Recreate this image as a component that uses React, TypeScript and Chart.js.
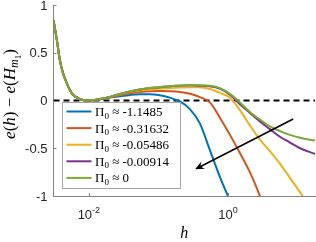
import React, { useEffect, useRef } from 'react';
import { Chart, registerables } from 'chart.js';

Chart.register(...registerables);

// ---- data ----
const hValues = [
  0.0031, 0.00347, 0.00383, 0.00423, 0.00482, 0.00533, 0.00589, 0.00695, 0.0082, 0.01,
  0.0144, 0.02, 0.028, 0.039, 0.054, 0.075, 0.105, 0.146, 0.204, 0.284,
  0.395, 0.551, 0.767, 1.07, 1.49, 2.07, 2.89, 4.02, 5.6, 7.8, 10.9, 17.9,
];

const seriesBlue = [
  0.84, 0.63, 0.42, 0.29, 0.18, 0.11, 0.06, 0.026, 0.005, 0.0,
  0.012, 0.03, 0.045, 0.058, 0.065, 0.065, 0.055, 0.03, -0.01, -0.09,
  -0.24, -0.52, -0.8, -1.05, null, null, null, null, null, null, null, null,
];
const seriesOrange = [
  0.84, 0.63, 0.42, 0.29, 0.18, 0.11, 0.06, 0.026, 0.005, 0.0,
  0.014, 0.033, 0.055, 0.075, 0.088, 0.097, 0.1, 0.098, 0.09, 0.07,
  0.035, -0.02, -0.18, -0.36, -0.55, -0.75, -1.0, -1.3, null, null, null, null,
];
const seriesYellow = [
  0.84, 0.63, 0.42, 0.29, 0.18, 0.11, 0.06, 0.026, 0.005, 0.0,
  0.015, 0.036, 0.065, 0.09, 0.105, 0.115, 0.125, 0.13, 0.135, 0.14,
  0.14, 0.12, 0.08, 0.03, -0.1, -0.26, -0.41, -0.53, -0.66, -0.81, -0.96, -1.2,
];
const seriesPurple = [
  0.84, 0.63, 0.42, 0.29, 0.18, 0.11, 0.06, 0.026, 0.005, 0.0,
  0.015, 0.037, 0.068, 0.095, 0.115, 0.13, 0.14, 0.15, 0.155, 0.16,
  0.155, 0.15, 0.125, 0.06, -0.04, -0.13, -0.22, -0.3, -0.38, -0.44, -0.5, -0.56,
];
const seriesGreen = [
  0.84, 0.63, 0.42, 0.29, 0.18, 0.11, 0.06, 0.026, 0.005, 0.0,
  0.015, 0.037, 0.068, 0.095, 0.115, 0.13, 0.14, 0.15, 0.155, 0.16,
  0.16, 0.155, 0.13, 0.07, -0.02, -0.12, -0.2, -0.27, -0.32, -0.36, -0.39, -0.42,
];

const piValues = ['-1.1485', '-0.31632', '-0.05486', '-0.00914', '0'];
const seriesColors = ['#0072BD', '#D95319', '#EDB120', '#7E2F8E', '#77AC30'];
const allSeries = [seriesBlue, seriesOrange, seriesYellow, seriesPurple, seriesGreen];

const yTicks = [1, 0.5, 0, -0.5, -1];
const yTickLabels = ['1', '0.5', '0', '-0.5', '-1'];
const xTicks = [0.01, 1];
const xTickExponents = ['-2', '0'];

const xMin = 0.0031;
const xMax = 17.9;
const zeroLine = [0, 0];

const arrowFrom = [8.7, -0.194];
const arrowTo = [0.338, -0.72];

// ---- styles ----
const SERIF = '"Liberation Serif", "DejaVu Serif", "Times New Roman", serif';
const SANS = '"Liberation Sans", Arial, Helvetica, sans-serif';
const AXIS = '#858585';
const TEXT = '#262626';

type Run = { t: string; font: string; dy: number };

function runsWidth(ctx: CanvasRenderingContext2D, runs: Run[]) {
  let w = 0;
  for (const r of runs) {
    ctx.font = r.font;
    w += ctx.measureText(r.t).width;
  }
  return w;
}
function drawRuns(ctx: CanvasRenderingContext2D, runs: Run[], x: number, y: number) {
  let cx = x;
  for (const r of runs) {
    ctx.font = r.font;
    ctx.fillText(r.t, cx, y + r.dy);
    cx += ctx.measureText(r.t).width;
  }
  return cx - x;
}

const overlayPlugin = {
  id: 'overlay',
  afterDraw(chart: any) {
    const { ctx, chartArea: ca } = chart;
    const xs = chart.scales.x;
    const ys = chart.scales.y;
    ctx.save();

    // tick marks (inward)
    ctx.strokeStyle = AXIS;
    ctx.lineWidth = 1;
    yTicks.forEach((v) => {
      const py = Math.round(ys.getPixelForValue(v)) + 0.5;
      ctx.beginPath();
      ctx.moveTo(ca.left, py);
      ctx.lineTo(ca.left + 3, py);
      ctx.stroke();
    });
    xTicks.forEach((v) => {
      const px = Math.round(xs.getPixelForValue(v)) + 0.5;
      ctx.beginPath();
      ctx.moveTo(px, ca.bottom);
      ctx.lineTo(px, ca.bottom - 3);
      ctx.stroke();
    });

    // y tick labels
    ctx.fillStyle = TEXT;
    ctx.font = `13px ${SANS}`;
    ctx.textAlign = 'right';
    ctx.textBaseline = 'middle';
    yTicks.forEach((v, i) => {
      ctx.fillText(yTickLabels[i], ca.left - 6, ys.getPixelForValue(v) + 1);
    });

    // x tick labels with superscripts
    ctx.textAlign = 'left';
    ctx.textBaseline = 'alphabetic';
    xTicks.forEach((v, i) => {
      const runs: Run[] = [
        { t: '10', font: `13px ${SANS}`, dy: 0 },
        { t: xTickExponents[i], font: `9px ${SANS}`, dy: -6 },
      ];
      const w = runsWidth(ctx, runs);
      drawRuns(ctx, runs, xs.getPixelForValue(v) - w / 2, 219);
    });

    // arrow
    const fx = xs.getPixelForValue(arrowFrom[0]);
    const fy = ys.getPixelForValue(arrowFrom[1]);
    const tx = xs.getPixelForValue(arrowTo[0]);
    const ty = ys.getPixelForValue(arrowTo[1]);
    const ang = Math.atan2(ty - fy, tx - fx);
    const dx = Math.cos(ang), dy = Math.sin(ang);
    const L = 9, W = 4;
    ctx.strokeStyle = '#000';
    ctx.fillStyle = '#000';
    ctx.lineWidth = 1.5;
    ctx.beginPath();
    ctx.moveTo(fx, fy);
    ctx.lineTo(tx - dx * 5, ty - dy * 5);
    ctx.stroke();
    ctx.beginPath();
    ctx.moveTo(tx, ty);
    ctx.lineTo(tx - dx * L - dy * W, ty - dy * L + dx * W);
    ctx.lineTo(tx - dx * L * 0.65, ty - dy * L * 0.65);
    ctx.lineTo(tx - dx * L + dy * W, ty - dy * L - dx * W);
    ctx.closePath();
    ctx.fill();

    // legend box
    const lx = ca.left + 8.5;
    const ly = ca.top + 97;
    const lw = 118;
    const lh = 86;
    ctx.fillStyle = '#fff';
    ctx.fillRect(lx, ly, lw, lh);
    ctx.strokeStyle = '#a6a6a6';
    ctx.lineWidth = 1;
    ctx.strokeRect(Math.round(lx) + 0.5, Math.round(ly) + 0.5, lw, lh);
    piValues.forEach((val, i) => {
      const cy = ly + 9.5 + i * 16.6;
      ctx.strokeStyle = seriesColors[i];
      ctx.lineWidth = 2;
      ctx.beginPath();
      ctx.moveTo(lx + 4.5, cy);
      ctx.lineTo(lx + 29.5, cy);
      ctx.stroke();
      ctx.fillStyle = '#000';
      drawRuns(
        ctx,
        [
          { t: 'Π', font: `13px ${SERIF}`, dy: 0 },
          { t: '0', font: `9px ${SERIF}`, dy: 2.5 },
          { t: ' ≈ ' + val, font: `13px ${SERIF}`, dy: 0 },
        ],
        lx + 33,
        cy + 4.5
      );
    });

    // x title
    ctx.fillStyle = '#000';
    ctx.textAlign = 'center';
    ctx.font = `italic 16px ${SERIF}`;
    ctx.fillText('h', (ca.left + ca.right) / 2, 238);

    // y title (rotated)
    const yRuns: Run[] = [
      { t: 'e', font: `italic 17px ${SERIF}`, dy: 0 },
      { t: '(', font: `17px ${SERIF}`, dy: 0 },
      { t: 'h', font: `italic 17px ${SERIF}`, dy: 0 },
      { t: ')', font: `17px ${SERIF}`, dy: 0 },
      { t: ' − ', font: `17px ${SERIF}`, dy: 0 },
      { t: 'e', font: `italic 17px ${SERIF}`, dy: 0 },
      { t: '(', font: `17px ${SERIF}`, dy: 0 },
      { t: 'H', font: `italic 17px ${SERIF}`, dy: 0 },
      { t: 'm', font: `italic 12px ${SERIF}`, dy: 3 },
      { t: '1', font: `9px ${SERIF}`, dy: 5.5 },
      { t: ')', font: `17px ${SERIF}`, dy: 0 },
    ];
    ctx.textAlign = 'left';
    ctx.translate(15, 94);
    ctx.rotate(-Math.PI / 2);
    const yw = runsWidth(ctx, yRuns);
    drawRuns(ctx, yRuns, -yw / 2, 0);

    ctx.restore();
  },
};

export default function App() {
  const canvasRef = useRef<HTMLCanvasElement | null>(null);

  useEffect(() => {
    const canvas = canvasRef.current;
    if (!canvas) return;
    const curveSets = allSeries.map((s, i) => ({
      label: 'Π₀ ≈ ' + piValues[i],
      data: hValues.map((h, k) => ({ x: h, y: s[k] })),
      borderColor: seriesColors[i],
      backgroundColor: seriesColors[i],
      borderWidth: 2,
      pointRadius: 0,
      fill: false,
      cubicInterpolationMode: 'monotone' as const,
      spanGaps: false,
      order: 4 - i,
    }));
    const dashed = {
      label: 'zero',
      data: [
        { x: xMin, y: zeroLine[0] },
        { x: xMax, y: zeroLine[1] },
      ],
      borderColor: '#000',
      borderWidth: 1.8,
      borderDash: [6, 4],
      pointRadius: 0,
      fill: false,
      order: 10,
    };
    const chart = new Chart(canvas, {
      type: 'line',
      data: { datasets: [...curveSets, dashed] as any },
      options: {
        animation: false,
        responsive: false,
        devicePixelRatio: 1,
        layout: { padding: { left: 53.5, top: 5, right: 1, bottom: 46 } },
        plugins: { legend: { display: false }, tooltip: { enabled: false } },
        events: [],
        scales: {
          x: {
            type: 'logarithmic',
            min: xMin,
            max: xMax,
            grid: { display: false, drawTicks: false },
            border: { display: true, color: AXIS, width: 1 },
            ticks: { display: false },
          },
          y: {
            type: 'linear',
            min: -1,
            max: 1,
            grid: { display: false, drawTicks: false },
            border: { display: true, color: AXIS, width: 1 },
            ticks: { display: false },
          },
        },
      },
      plugins: [overlayPlugin],
    });
    return () => chart.destroy();
  }, []);

  return (
    <div style={{ position: 'fixed', left: 0, top: 0, width: 316, height: 242, background: '#fff' }}>
      <canvas ref={canvasRef} width={316} height={242} style={{ display: 'block' }} />
    </div>
  );
}
